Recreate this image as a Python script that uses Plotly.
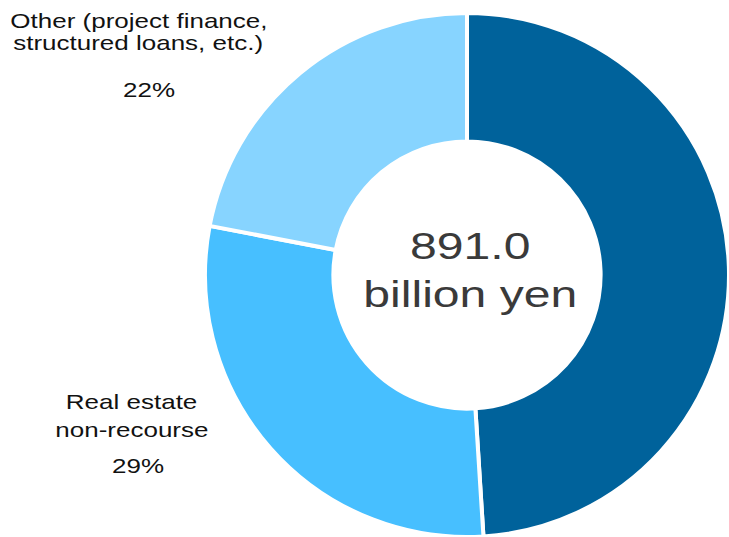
import plotly.graph_objects as go

# Loan portfolio breakdown (share of total, %)
segments = ["Corporate loans", "Real estate non-recourse", "Other (project finance, structured loans, etc.)"]
shares = [49, 29, 22]
colors = ["#00629B", "#47BFFF", "#87D4FF"]
total_label = ["891.0", "billion yen"]

W, H = 729, 537
M_TOP = 13


def px_x(x):
    return x / W


def px_y(y):
    return (H - y) / (H - M_TOP)


fig = go.Figure(
    go.Pie(
        labels=segments,
        values=shares,
        marker=dict(colors=colors, line=dict(color="white", width=4)),
        hole=0.51,
        sort=False,
        direction="clockwise",
        rotation=0,
        textinfo="none",
        hoverinfo="label+percent",
        domain=dict(x=[205 / W, 1.0], y=[0, 1]),
        showlegend=False,
    )
)

FONT = "Liberation Sans, Arial, sans-serif"
label_font = dict(family=FONT, size=20, color="#111111")
annotations = []

# Outside labels: (text, centre x px, middle y px)
side_lines = [
    ("Other (project finance,", 139, 21.5),
    ("structured loans, etc.)", 138, 43.5),
    (f"{shares[2]}%", 149, 90),
    ("Real estate", 131, 402),
    ("non-recourse", 132, 430),
    (f"{shares[1]}%", 138, 466),
]
for text, x, y in side_lines:
    annotations.append(
        dict(text=text, x=px_x(x), y=px_y(y), xref="paper", yref="paper",
             xanchor="center", yanchor="middle", showarrow=False, font=label_font)
    )

# Total in the donut hole
annotations.append(
    dict(text="<br>".join(total_label), x=px_x(471), y=px_y(270), xref="paper", yref="paper",
         xanchor="center", yanchor="middle", showarrow=False,
         font=dict(family=FONT, size=37, color="#3A3A3A"))
)

fig.update_layout(
    width=W,
    height=H,
    margin=dict(l=0, r=0, t=M_TOP, b=0),
    paper_bgcolor="white",
    plot_bgcolor="white",
    annotations=annotations,
)

# Labels are set in a horizontally widened face
post_js = """
var gd = document.getElementById('{plot_id}');
function widenText() {
  gd.querySelectorAll('text.annotation-text').forEach(function (t) {
    t.style.transformBox = 'fill-box';
    t.style.transformOrigin = 'center';
    t.style.transform = 'scaleX(1.3)';
  });
}
widenText();
gd.on('plotly_afterplot', widenText);
"""

fig.write_html("out.html", post_script=post_js)
